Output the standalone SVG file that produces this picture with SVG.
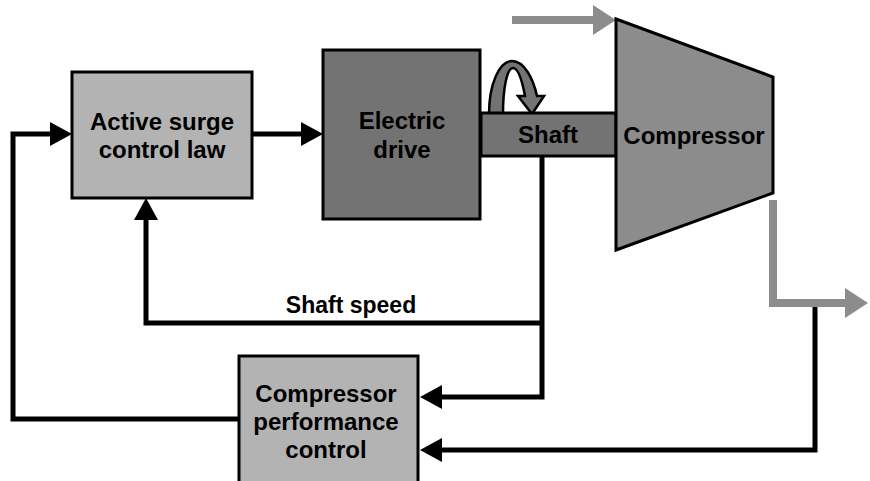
<svg xmlns="http://www.w3.org/2000/svg" width="870" height="481" viewBox="0 0 870 481">
<style>
.box{stroke:#000;stroke-width:3}
.lt{fill:#b3b3b3}
.dk{fill:#737373}
.md{fill:#8c8c8c}
.t{font-family:"Liberation Sans",Arial,sans-serif;font-weight:bold;font-size:24px;text-anchor:middle;fill:#000}
.bl{fill:none;stroke:#000;stroke-width:5;stroke-linejoin:miter}
.gr{fill:none;stroke:#8c8c8c;stroke-width:8;stroke-linejoin:miter}
</style>
<defs>
<marker id="ab" markerUnits="userSpaceOnUse" markerWidth="22" markerHeight="24" refX="0" refY="12" orient="auto" viewBox="0 0 22 24">
<path d="M0,0 L22,12 L0,24 Z" fill="#000"/>
</marker>
<marker id="ag" markerUnits="userSpaceOnUse" markerWidth="23" markerHeight="30" refX="0" refY="15" orient="auto" viewBox="0 0 23 30">
<path d="M0,0 L23,15 L0,30 Z" fill="#8c8c8c"/>
</marker>
</defs>
<rect width="870" height="481" fill="#fff"/>
<g id="connectors">
<path class="bl" d="M239,419 H13 V134 H50" marker-end="url(#ab)"/>
<path class="bl" d="M252,134 H301" marker-end="url(#ab)"/>
<path class="bl" d="M542,156 V397 H442" marker-end="url(#ab)"/>
<path class="bl" d="M542,323 H146 V220" marker-end="url(#ab)"/>
<path class="bl" d="M815,304 V450 H442" marker-end="url(#ab)"/>
<path class="gr" d="M512,20 H593" marker-end="url(#ag)"/>
<path class="gr" d="M773,200 V303 H845" marker-end="url(#ag)"/>
</g>
<g id="ascl">
<rect class="box lt" x="72" y="72" width="180" height="126"/>
<text class="t" x="162" y="130">Active surge</text>
<text class="t" x="162" y="158">control law</text>
</g>
<g id="rotation">
<path class="dk" stroke="#000" stroke-width="2.5" stroke-linejoin="miter" d="M489,114 C489,85 499,61 512,61 C524,61 533,78 537,96 L544,96 L532,114 L518,96 L525,96 C522,80 518,68 513,68 C507,68 503,88 503,114 Z"/>
</g>
<g id="shaft">
<rect class="box dk" x="481" y="113" width="135" height="43"/>
<text class="t" x="548" y="143">Shaft</text>
</g>
<g id="electric-drive">
<rect class="box dk" x="323" y="50" width="157" height="169"/>
<text class="t" x="402" y="129">Electric</text>
<text class="t" x="402" y="158">drive</text>
</g>
<g id="compressor">
<polygon class="box md" points="616,19 773,77 773,193 616,250"/>
<text class="t" x="694" y="144">Compressor</text>
</g>
<g id="shaft-speed-label">
<text class="t" x="351" y="313" style="font-size:23px">Shaft speed</text>
</g>
<g id="cpc">
<rect class="box lt" x="239" y="356" width="179" height="135"/>
<text class="t" x="326" y="402">Compressor</text>
<text class="t" x="326" y="430">performance</text>
<text class="t" x="326" y="458">control</text>
</g>
</svg>
